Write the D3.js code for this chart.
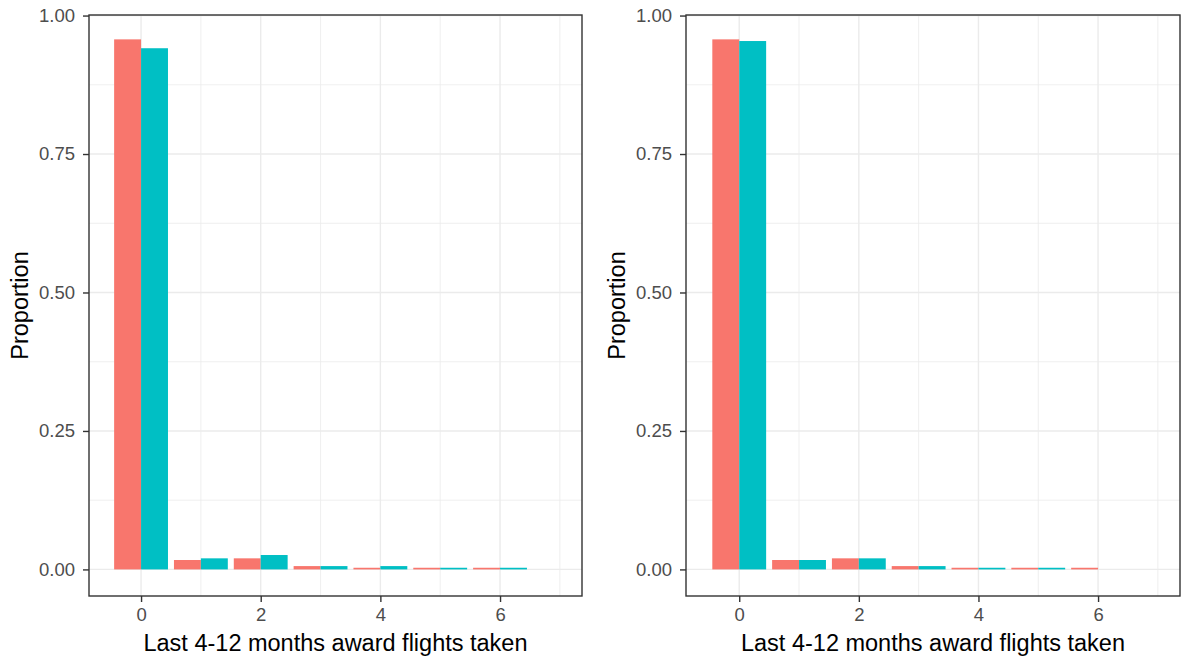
<!DOCTYPE html>
<html>
<head>
<meta charset="utf-8">
<script src="https://cdn.jsdelivr.net/npm/d3@7"></script>
<style>
  html, body { margin: 0; padding: 0; background: #ffffff; }
  svg { display: block; font-family: "Liberation Sans", Arial, sans-serif; }
</style>
</head>
<body>
<svg id="chart" width="1181" height="663"></svg>
<script>
// Number of award flights taken in the last 4-12 months
const flights = [0, 1, 2, 3, 4, 5, 6];
const groups = ["a", "b"];
const groupColors = ["#F8766D", "#00BFC4"];

// Left panel proportions
const leftA = [0.957, 0.017, 0.020, 0.006, 0.003, 0.003, 0.003];
const leftB = [0.941, 0.020, 0.026, 0.006, 0.006, 0.003, 0.003];

// Right panel proportions
const rightA = [0.957, 0.017, 0.020, 0.006, 0.003, 0.003, 0.003];
const rightB = [0.954, 0.017, 0.020, 0.006, 0.003, 0.003, 0.000];

const yTicks = [0, 0.25, 0.5, 0.75, 1.0];
const yMinor = [0.125, 0.375, 0.625, 0.875];
const xTicks = [0, 2, 4, 6];
const xMinor = [1, 3, 5, 7];

const xTitle = "Last 4-12 months award flights taken";
const yTitle = "Proportion";

const svg = d3.select("#chart");

function drawPanel(left, right, xDomain, seriesA, seriesB) {
  const top = 15, bottom = 596;
  const x = d3.scaleLinear().domain(xDomain).range([left, right]);
  const y = d3.scaleLinear().domain([-0.048, 1.001]).range([bottom, top]);
  const g = svg.append("g");

  // minor grid
  g.selectAll(".ymin").data(yMinor).join("line")
    .attr("x1", left).attr("x2", right)
    .attr("y1", d => y(d)).attr("y2", d => y(d))
    .attr("stroke", "#EBEBEB").attr("stroke-width", 0.8);
  g.selectAll(".xmin").data(xMinor).join("line")
    .attr("y1", top).attr("y2", bottom)
    .attr("x1", d => x(d)).attr("x2", d => x(d))
    .attr("stroke", "#EBEBEB").attr("stroke-width", 0.8);
  // major grid
  g.selectAll(".ymaj").data(yTicks).join("line")
    .attr("x1", left).attr("x2", right)
    .attr("y1", d => y(d)).attr("y2", d => y(d))
    .attr("stroke", "#EBEBEB").attr("stroke-width", 1.4);
  g.selectAll(".xmaj").data(xTicks).join("line")
    .attr("y1", top).attr("y2", bottom)
    .attr("x1", d => x(d)).attr("x2", d => x(d))
    .attr("stroke", "#EBEBEB").attr("stroke-width", 1.4);

  // dodged bars
  const barW = 0.9;
  const rows = [];
  flights.forEach((f, i) => {
    [seriesA[i], seriesB[i]].forEach((v, k) => {
      rows.push({ f, v, k });
    });
  });
  g.selectAll(".bar").data(rows.filter(d => d.v > 0)).join("rect")
    .attr("x", d => x(d.f - barW / 2 + d.k * barW / 2))
    .attr("width", d => x(d.f + barW / 2) - x(d.f))
    .attr("y", d => y(d.v))
    .attr("height", d => y(0) - y(d.v))
    .attr("fill", d => groupColors[d.k]);

  // panel border
  g.append("rect")
    .attr("x", left).attr("y", top)
    .attr("width", right - left).attr("height", bottom - top)
    .attr("fill", "none").attr("stroke", "#333333").attr("stroke-width", 1.4);

  // y axis
  const yAxis = d3.axisLeft(y).tickValues(yTicks).tickFormat(d3.format(".2f"))
    .tickSize(6).tickPadding(8);
  const ya = g.append("g").attr("transform", `translate(${left},0)`).call(yAxis);
  ya.select(".domain").remove();
  ya.selectAll(".tick line").attr("stroke", "#333333").attr("stroke-width", 1.4);
  ya.selectAll(".tick text").attr("fill", "#4D4D4D").style("font-size", "18.5px")
    .style("font-family", "'Liberation Sans', Arial, sans-serif");

  // x axis
  const xAxis = d3.axisBottom(x).tickValues(xTicks).tickFormat(d3.format("d"))
    .tickSize(6).tickPadding(6);
  const xa = g.append("g").attr("transform", `translate(0,${bottom})`).call(xAxis);
  xa.select(".domain").remove();
  xa.selectAll(".tick line").attr("stroke", "#333333").attr("stroke-width", 1.4);
  xa.selectAll(".tick text").attr("fill", "#4D4D4D").style("font-size", "18.5px")
    .style("font-family", "'Liberation Sans', Arial, sans-serif");

  // titles
  g.append("text")
    .attr("x", (left + right) / 2).attr("y", 651)
    .attr("text-anchor", "middle").attr("fill", "#000")
    .style("font-size", "23.5px").text(xTitle);
  g.append("text")
    .attr("transform", `translate(${left - 61},${(top + bottom) / 2}) rotate(-90)`)
    .attr("text-anchor", "middle").attr("fill", "#000")
    .style("font-size", "23.5px").text(yTitle);
}

drawPanel(89, 582, [-0.87, 7.37], leftA, leftB);
drawPanel(686, 1180, [-0.89, 7.37], rightA, rightB);
</script>
</body>
</html>
